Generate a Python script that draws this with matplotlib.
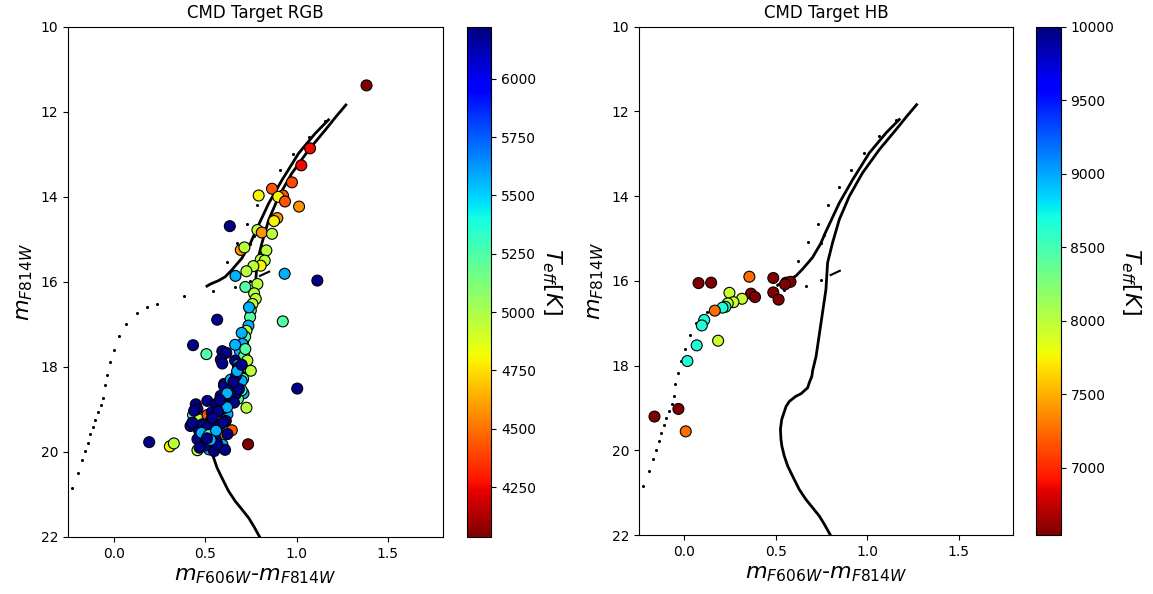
import matplotlib.pyplot as plt

# isochrone (MS + RGB), colour / magnitude
iso_color = [0.805, 0.765, 0.738, 0.701, 0.665, 0.628, 0.592, 0.565, 0.546, 0.533,
             0.528, 0.525, 0.532, 0.556, 0.574, 0.61, 0.638, 0.674, 0.683, 0.697,
             0.701, 0.72, 0.747, 0.774, 0.783, 0.81, 0.847, 0.902, 0.974, 1.066,
             1.157, 1.215, 1.27]
iso_mag = [22.05, 21.74, 21.55, 21.35, 21.16, 20.92, 20.61, 20.37, 20.13, 19.9,
           19.74, 19.5, 19.27, 18.96, 18.84, 18.72, 18.66, 18.52, 18.4, 18.25,
           18.12, 17.78, 16.99, 16.2, 15.57, 15.1, 14.55, 14.0, 13.45, 12.9,
           12.43, 12.12, 11.84]

# AGB branch
agb_color = [0.51, 0.53, 0.574, 0.61, 0.646, 0.70, 0.745, 0.772, 0.847, 0.92,
             1.011, 1.102, 1.175]
agb_mag = [16.1, 16.05, 15.97, 15.88, 15.72, 15.45, 15.12, 14.85, 14.16, 13.61,
           12.98, 12.51, 12.19]

# short clump segment
seg_color = [0.80, 0.85]
seg_mag = [15.86, 15.76]

# sparse HB / track points
hb_color = [-0.226, -0.196, -0.171, -0.156, -0.14, -0.128, -0.114, -0.1, -0.087,
            -0.07, -0.058, -0.05, -0.036, -0.018, 0.004, 0.029, 0.065, 0.126,
            0.182, 0.235, 0.386, 0.545, 0.665, 0.747, 0.619, 0.674, 0.728, 0.783,
            0.844, 0.911, 0.98, 1.066, 1.157, 0.747, 0.765]
hb_mag = [20.85, 20.49, 20.2, 19.98, 19.78, 19.58, 19.41, 19.24, 19.07,
          18.9, 18.72, 18.42, 18.18, 17.88, 17.6, 17.28, 16.99, 16.73,
          16.6, 16.53, 16.34, 16.21, 16.11, 15.97, 15.53, 15.08, 14.65, 14.2,
          13.79, 13.37, 12.99, 12.59, 12.21, 15.1, 14.92]

# RGB target stars
rgb_color = [1.383, 1.074, 1.026, 0.975, 0.866, 0.926, 0.793, 0.90, 0.937, 1.014,
             0.895, 0.877, 0.635, 0.786, 0.81, 0.866, 0.835, 0.695, 0.715, 0.804,
             0.826, 0.804, 0.764, 0.726, 0.666, 0.935, 1.114, 0.786, 0.768, 0.777,
             0.759, 0.75, 0.746, 0.737, 0.726, 0.719, 0.704, 0.69, 0.713, 0.731,
             0.70, 0.75, 0.69, 0.708, 0.566, 0.925, 0.434, 0.507, 0.594, 0.616,
             0.586, 0.594, 0.664, 0.664, 1.004, 0.604, 0.646, 0.686, 0.726, 0.72,
             0.74, 0.70, 0.72, 0.68, 0.70, 0.68, 0.71, 0.66, 0.63, 0.68, 0.61,
             0.70, 0.194, 0.307, 0.329, 0.458, 0.735, 0.434, 0.467, 0.42, 0.513,
             0.585, 0.622, 0.646, 0.595, 0.522, 0.595, 0.609, 0.549, 0.449, 0.458,
             0.512, 0.585, 0.558, 0.603, 0.645, 0.667, 0.685, 0.631, 0.658, 0.467,
             0.494, 0.458, 0.503, 0.558, 0.567, 0.531, 0.549, 0.585, 0.613, 0.622,
             0.485, 0.512, 0.536, 0.594, 0.616, 0.44, 0.43, 0.48, 0.52, 0.56,
             0.50, 0.47, 0.53, 0.64, 0.67, 0.62, 0.57, 0.54, 0.51, 0.60, 0.655,
             0.675, 0.70, 0.62, 0.58]
rgb_mag = [11.38, 12.86, 13.26, 13.66, 13.81, 13.97, 13.97, 14.0, 14.11, 14.23,
           14.5, 14.57, 14.69, 14.78, 14.84, 14.87, 15.26, 15.25, 15.19, 15.48,
           15.5, 15.62, 15.63, 15.75, 15.86, 15.81, 15.97, 16.05, 16.27, 16.4,
           16.52, 16.67, 16.83, 17.03, 17.15, 17.29, 17.46, 17.63, 17.74, 17.85,
           18.05, 18.09, 18.2, 18.28, 16.89, 16.93, 17.49, 17.7, 17.63, 17.67,
           17.83, 17.92, 17.85, 17.48, 18.51, 18.4, 18.48, 18.48, 18.96, 16.12,
           16.6, 17.2, 17.58, 17.95, 18.33, 18.02, 18.62, 18.6, 18.72, 18.75,
           18.85, 18.55, 19.77, 19.87, 19.8, 19.96, 19.82, 19.13, 19.23, 19.39,
           19.13, 19.15, 19.11, 19.49, 19.62, 19.94, 19.83, 19.95, 19.98, 18.88,
           18.99, 18.8, 18.68, 18.88, 18.44, 18.48, 18.64, 18.52, 18.76, 18.84,
           19.5, 19.62, 19.7, 19.78, 19.7, 19.82, 19.27, 19.43, 19.35, 19.27,
           19.58, 19.35, 19.43, 19.07, 18.99, 18.91, 19.03, 19.31, 19.55, 19.6,
           19.5, 19.85, 19.9, 19.72, 18.3, 18.2, 18.95, 19.05, 19.2, 19.68, 19.3,
           18.35, 18.1, 17.95, 18.62, 18.78]
rgb_teff = [4040, 4250, 4250, 4400, 4430, 4430, 4800, 4800, 4430, 4580,
            4580, 4800, 6200, 4960, 4580, 4960, 4960, 4580, 4960, 4960,
            4960, 4800, 4960, 4960, 5570, 5570, 6200, 4960, 4960, 4960,
            4960, 5240, 5240, 5570, 4960, 5240, 5570, 5570, 5240, 4960,
            5240, 4960, 6200, 5240, 6200, 5240, 6200, 5240, 6200, 6200,
            6200, 6200, 6200, 5570, 6200, 6200, 6200, 6200, 4960, 5240,
            5570, 5570, 5240, 5570, 5570, 6200, 5570, 5570, 5570, 5240,
            5570, 5240, 6200, 4800, 4960, 4960, 4040, 5240, 4960, 6200,
            4430, 4580, 5570, 4430, 4580, 5570, 5570, 6200, 6200, 6200,
            6200, 6200, 6200, 6200, 6200, 6200, 6200, 6200, 6200, 6200,
            6200, 6200, 6200, 6200, 6200, 6200, 6200, 6200, 6200, 6200,
            6200, 6200, 6200, 6200, 6200, 6200, 6200, 6200, 5570, 5240,
            5570, 6200, 6200, 5570, 5570, 6200, 5570, 6200, 6200, 6200, 6200,
            6200, 5570, 6200, 5570, 6200]

# HB target stars
hbt_color = [0.077, 0.146, 0.355, 0.486, 0.556, 0.58, 0.55, 0.364, 0.386, 0.486,
             0.515, 0.246, 0.315, 0.268, 0.237, 0.224, 0.208, 0.166, 0.108, 0.095,
             0.184, 0.067, 0.016, -0.033, -0.164, 0.007]
hbt_mag = [16.05, 16.04, 15.9, 15.93, 16.04, 16.02, 16.08, 16.3, 16.38, 16.27,
           16.44, 16.28, 16.42, 16.5, 16.53, 16.61, 16.63, 16.7, 16.92, 17.05,
           17.41, 17.52, 17.89, 19.02, 19.2, 19.55]
hbt_teff = [6540, 6540, 7250, 6540, 6540, 6540, 6540, 6540, 6540, 6540,
            6540, 7950, 7950, 7950, 7950, 8650, 8650, 7250, 8650, 8650,
            7950, 8650, 8650, 6540, 6540, 7250]

fig = plt.figure(figsize=(11.53, 5.94), dpi=100)

panels = [
    ([0.059, 0.096, 0.325, 0.859], [0.405, 0.096, 0.021, 0.859],
     'CMD Target RGB', rgb_color, rgb_mag, rgb_teff, 4036, 6223),
    ([0.554, 0.099, 0.325, 0.856], [0.8985, 0.099, 0.0215, 0.856],
     'CMD Target HB', hbt_color, hbt_mag, hbt_teff, 6540, 10000),
]

for ax_pos, cb_pos, title, c, m, t, vmin, vmax in panels:
    ax = fig.add_axes(ax_pos)
    cax = fig.add_axes(cb_pos)
    ax.plot(iso_color, iso_mag, color='k', lw=2, zorder=2, solid_joinstyle='round')
    ax.plot(agb_color, agb_mag, color='k', lw=2, zorder=2, solid_joinstyle='round')
    ax.plot(seg_color, seg_mag, color='k', lw=1.5, zorder=2)
    ax.scatter(hb_color, hb_mag, s=1.5, color='k', zorder=2)
    sc = ax.scatter(c, m, c=t, cmap='jet_r', vmin=vmin, vmax=vmax, s=62,
                    edgecolors='k', linewidths=0.8, zorder=3)
    ax.set_xlim(-0.25, 1.8)
    ax.set_ylim(22, 10)
    ax.set_title(title, fontsize=12)
    ax.set_xlabel(r'$m_{F606W}$-$m_{F814W}$', fontsize=16)
    ax.set_ylabel(r'$m_{F814W}$', fontsize=16)
    cb = fig.colorbar(sc, cax=cax)
    cb.set_label(r'$T_{eff}[K]$', rotation=270, fontsize=16, labelpad=20)

plt.savefig('out.png', dpi=100)
